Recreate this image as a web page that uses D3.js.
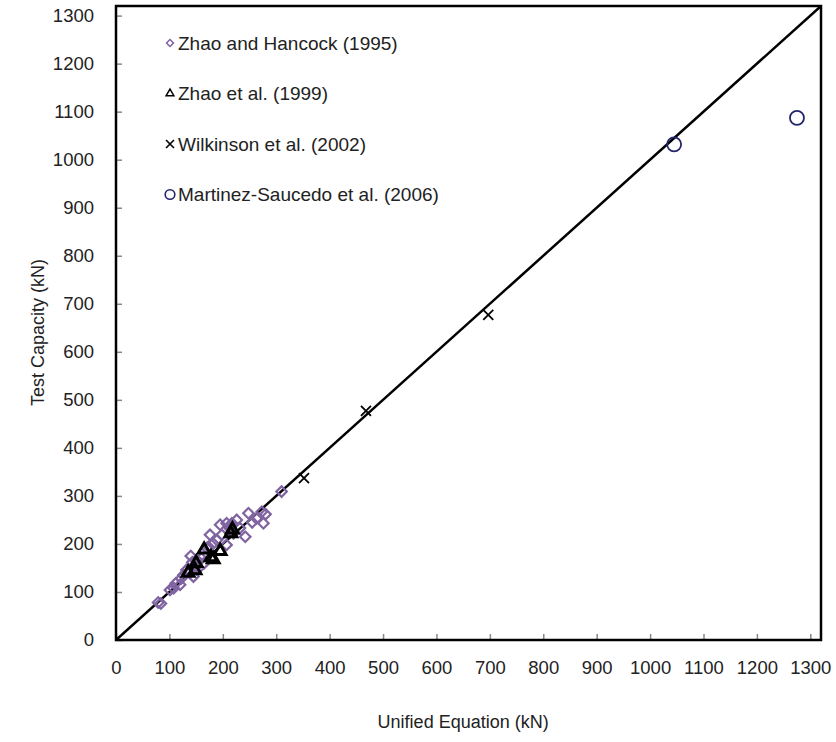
<!DOCTYPE html>
<html>
<head>
<meta charset="utf-8">
<script src="https://d3js.org/d3.v7.min.js"></script>
<style>
  body { margin: 0; background: #fff; }
  text { font-family: "Liberation Sans", Arial, sans-serif; fill: #222; }
</style>
</head>
<body>
<div id="chart"></div>
<script>
"use strict";

// data (kN): [unified equation, test capacity]
var zhaoHancock = [
  [79,78],[84,76],[101,104],[108,108],[112,118],[120,115],[122,128],[126,135],
  [132,146],[138,140],[140,175],[143,162],[145,132],[151,153],[151,167],[155,150],
  [160,170],[165,160],[170,191],[173,194],[176,219],[182,201],[189,208],[195,240],
  [198,219],[207,198],[207,243],[213,233],[217,243],[220,222],[226,250],[232,233],
  [242,215],[248,264],[255,245],[263,253],[273,267],[276,243],[280,262],[310,309]
];
var zhao1999 = [
  [135,140],[148,145],[150,160],[165,188],[178,172],[182,168],[195,185],[215,222],[218,230]
];
var wilkinson = [[352,337],[468,477],[697,677]];
var martinez = [[1045,1032],[1275,1087]];

var legendLabels = [
  "Zhao and Hancock (1995)",
  "Zhao et al. (1999)",
  "Wilkinson et al. (2002)",
  "Martinez-Saucedo et al. (2006)"
];
var ticks = d3.range(0, 1301, 100);
var axisMax = 1320;

var W = 836, H = 742;
var margin = { left: 116, top: 6, right: 15, bottom: 102 };
var width = W - margin.left - margin.right;
var height = H - margin.top - margin.bottom;

var purple = "#8064a2", navy = "#24246e";

var svg = d3.select("#chart").append("svg")
  .attr("width", W).attr("height", H);
var g = svg.append("g")
  .attr("transform", "translate(" + margin.left + "," + margin.top + ")");

var x = d3.scaleLinear().domain([0, axisMax]).range([0, width]);
var y = d3.scaleLinear().domain([0, axisMax]).range([height, 0]);

g.append("defs").append("clipPath").attr("id", "clip")
  .append("rect").attr("width", width).attr("height", height);

// inward ticks
var xAxis = d3.axisBottom(x).tickValues(ticks).tickSize(-6).tickPadding(21).tickFormat(d3.format("d"));
var yAxis = d3.axisLeft(y).tickValues(ticks).tickSize(-6).tickPadding(22).tickFormat(d3.format("d"));

var gx = g.append("g").attr("transform", "translate(0," + height + ")").call(xAxis);
var gy = g.append("g").call(yAxis);
[gx, gy].forEach(function (a) {
  a.select(".domain").remove();
  a.selectAll(".tick line").attr("stroke", "#888").attr("stroke-width", 1.5);
  a.selectAll(".tick text").style("font-size", "18.5px").attr("fill", "#222");
});

// frame
g.append("rect").attr("width", width).attr("height", height)
  .attr("fill", "none").attr("stroke", "#000").attr("stroke-width", 2.5);

// 1:1 line
g.append("line")
  .attr("x1", x(0)).attr("y1", y(0)).attr("x2", x(axisMax)).attr("y2", y(axisMax))
  .attr("stroke", "#000").attr("stroke-width", 2.5)
  .attr("clip-path", "url(#clip)");

var diamond = d3.symbol().type(d3.symbolSquare).size(55);
var tri = d3.symbol().type(d3.symbolTriangle).size(60);

var pts = g.append("g");

pts.selectAll(".dia").data(zhaoHancock).enter().append("path")
  .attr("class", "dia")
  .attr("d", diamond)
  .attr("transform", function (d) { return "translate(" + x(d[0]) + "," + y(d[1]) + ") rotate(45)"; })
  .attr("fill", "none").attr("stroke", purple).attr("stroke-width", 2.2);

pts.selectAll(".tri").data(zhao1999).enter().append("path")
  .attr("class", "tri")
  .attr("d", tri)
  .attr("transform", function (d) { return "translate(" + x(d[0]) + "," + y(d[1]) + ")"; })
  .attr("fill", "none").attr("stroke", "#000").attr("stroke-width", 3);

pts.selectAll(".crs").data(wilkinson).enter().append("path")
  .attr("class", "crs")
  .attr("d", "M-5,-5L5,5M-5,5L5,-5")
  .attr("transform", function (d) { return "translate(" + x(d[0]) + "," + y(d[1]) + ")"; })
  .attr("fill", "none").attr("stroke", "#000").attr("stroke-width", 1.8);

pts.selectAll(".cir").data(martinez).enter().append("circle")
  .attr("class", "cir")
  .attr("cx", function (d) { return x(d[0]); })
  .attr("cy", function (d) { return y(d[1]); })
  .attr("r", 7)
  .attr("fill", "none").attr("stroke", navy).attr("stroke-width", 1.8);

// legend
var leg = svg.append("g").attr("transform", "translate(170,43)");
var items = leg.selectAll("g").data(legendLabels).enter().append("g")
  .attr("transform", function (d, i) { return "translate(0," + i * 50.5 + ")"; });

items.each(function (d, i) {
  var it = d3.select(this);
  if (i === 0) {
    it.append("path").attr("d", d3.symbol().type(d3.symbolSquare).size(24))
      .attr("transform", "rotate(45)")
      .attr("fill", "none").attr("stroke", purple).attr("stroke-width", 1.5);
  } else if (i === 1) {
    it.append("path").attr("d", d3.symbol().type(d3.symbolTriangle).size(26))
      .attr("fill", "none").attr("stroke", "#000").attr("stroke-width", 1.5);
  } else if (i === 2) {
    it.append("path").attr("d", "M-4,-4L4,4M-4,4L4,-4")
      .attr("fill", "none").attr("stroke", "#000").attr("stroke-width", 1.6);
  } else {
    it.append("circle").attr("r", 4.8)
      .attr("fill", "none").attr("stroke", navy).attr("stroke-width", 1.6);
  }
  it.append("text").attr("x", 8).attr("dy", "0.36em")
    .style("font-size", "19px").text(d);
});

// axis titles
svg.append("text")
  .attr("x", margin.left + x(650)).attr("y", 728)
  .attr("text-anchor", "middle").style("font-size", "18px")
  .text("Unified Equation (kN)");

svg.append("text")
  .attr("transform", "translate(44," + (margin.top + y(640)) + ") rotate(-90)")
  .attr("text-anchor", "middle").style("font-size", "18px")
  .text("Test Capacity (kN)");
</script>
</body>
</html>
